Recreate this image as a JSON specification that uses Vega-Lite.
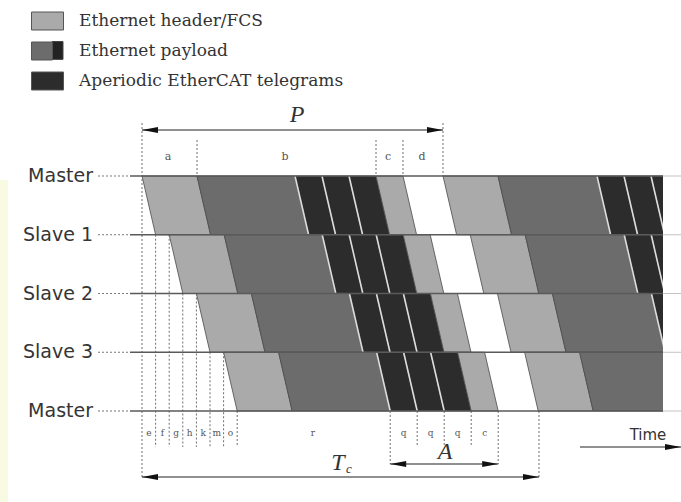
{
  "$schema": "https://vega.github.io/schema/vega-lite/v6.json",
  "width": 663,
  "height": 502,
  "autosize": {"type": "none"},
  "padding": {"left": 0, "top": 0, "right": 18, "bottom": 0},
  "background": "white",
  "config": {"view": {"stroke": null}},
  "datasets": {
    "tint": [{"t": 0, "t2": 8, "lane": 0.07, "lane2": 5.55}],
    "swatchTab": [{"t": 52, "t2": 63, "lane": -2.289, "lane2": -1.985}],
    "shapes": [
      {"id": "r0s1", "kind": "Ethernet header/FCS", "lane": 0, "t": 142, "t2": 197},
      {"id": "r0s1", "kind": "Ethernet header/FCS", "lane": 1, "t": 155.6, "t2": 210.6},
      {"id": "r0s2", "kind": "Ethernet payload", "lane": 0, "t": 197, "t2": 295},
      {"id": "r0s2", "kind": "Ethernet payload", "lane": 1, "t": 210.6, "t2": 308.6},
      {"id": "r0s3", "kind": "Aperiodic EtherCAT telegrams", "lane": 0, "t": 295, "t2": 322},
      {"id": "r0s3", "kind": "Aperiodic EtherCAT telegrams", "lane": 1, "t": 308.6, "t2": 335.6},
      {"id": "r0s4", "kind": "Aperiodic EtherCAT telegrams", "lane": 0, "t": 322, "t2": 349},
      {"id": "r0s4", "kind": "Aperiodic EtherCAT telegrams", "lane": 1, "t": 335.6, "t2": 362.6},
      {"id": "r0s5", "kind": "Aperiodic EtherCAT telegrams", "lane": 0, "t": 349, "t2": 376},
      {"id": "r0s5", "kind": "Aperiodic EtherCAT telegrams", "lane": 1, "t": 362.6, "t2": 389.6},
      {"id": "r0s6", "kind": "Ethernet header/FCS", "lane": 0, "t": 376, "t2": 403},
      {"id": "r0s6", "kind": "Ethernet header/FCS", "lane": 1, "t": 389.6, "t2": 416.6},
      {"id": "r0s8", "kind": "Ethernet header/FCS", "lane": 0, "t": 443, "t2": 498},
      {"id": "r0s8", "kind": "Ethernet header/FCS", "lane": 1, "t": 456.6, "t2": 511.6},
      {"id": "r0s9", "kind": "Ethernet payload", "lane": 0, "t": 498, "t2": 597},
      {"id": "r0s9", "kind": "Ethernet payload", "lane": 1, "t": 511.6, "t2": 610.6},
      {"id": "r0s10", "kind": "Aperiodic EtherCAT telegrams", "lane": 0, "t": 597, "t2": 624},
      {"id": "r0s10", "kind": "Aperiodic EtherCAT telegrams", "lane": 1, "t": 610.6, "t2": 637.6},
      {"id": "r0s11", "kind": "Aperiodic EtherCAT telegrams", "lane": 0, "t": 624, "t2": 651},
      {"id": "r0s11", "kind": "Aperiodic EtherCAT telegrams", "lane": 1, "t": 637.6, "t2": 664.6},
      {"id": "r0s12", "kind": "Aperiodic EtherCAT telegrams", "lane": 0, "t": 651, "t2": 678},
      {"id": "r0s12", "kind": "Aperiodic EtherCAT telegrams", "lane": 1, "t": 664.6, "t2": 691.6},

      {"id": "r1s1", "kind": "Ethernet header/FCS", "lane": 1, "t": 169.2, "t2": 224.2},
      {"id": "r1s1", "kind": "Ethernet header/FCS", "lane": 2, "t": 182.8, "t2": 237.8},
      {"id": "r1s2", "kind": "Ethernet payload", "lane": 1, "t": 224.2, "t2": 322.2},
      {"id": "r1s2", "kind": "Ethernet payload", "lane": 2, "t": 237.8, "t2": 335.8},
      {"id": "r1s3", "kind": "Aperiodic EtherCAT telegrams", "lane": 1, "t": 322.2, "t2": 349.2},
      {"id": "r1s3", "kind": "Aperiodic EtherCAT telegrams", "lane": 2, "t": 335.8, "t2": 362.8},
      {"id": "r1s4", "kind": "Aperiodic EtherCAT telegrams", "lane": 1, "t": 349.2, "t2": 376.2},
      {"id": "r1s4", "kind": "Aperiodic EtherCAT telegrams", "lane": 2, "t": 362.8, "t2": 389.8},
      {"id": "r1s5", "kind": "Aperiodic EtherCAT telegrams", "lane": 1, "t": 376.2, "t2": 403.2},
      {"id": "r1s5", "kind": "Aperiodic EtherCAT telegrams", "lane": 2, "t": 389.8, "t2": 416.8},
      {"id": "r1s6", "kind": "Ethernet header/FCS", "lane": 1, "t": 403.2, "t2": 430.2},
      {"id": "r1s6", "kind": "Ethernet header/FCS", "lane": 2, "t": 416.8, "t2": 443.8},
      {"id": "r1s8", "kind": "Ethernet header/FCS", "lane": 1, "t": 470.2, "t2": 525.2},
      {"id": "r1s8", "kind": "Ethernet header/FCS", "lane": 2, "t": 483.8, "t2": 538.8},
      {"id": "r1s9", "kind": "Ethernet payload", "lane": 1, "t": 525.2, "t2": 624.2},
      {"id": "r1s9", "kind": "Ethernet payload", "lane": 2, "t": 538.8, "t2": 637.8},
      {"id": "r1s10", "kind": "Aperiodic EtherCAT telegrams", "lane": 1, "t": 624.2, "t2": 651.2},
      {"id": "r1s10", "kind": "Aperiodic EtherCAT telegrams", "lane": 2, "t": 637.8, "t2": 664.8},
      {"id": "r1s11", "kind": "Aperiodic EtherCAT telegrams", "lane": 1, "t": 651.2, "t2": 678.2},
      {"id": "r1s11", "kind": "Aperiodic EtherCAT telegrams", "lane": 2, "t": 664.8, "t2": 691.8},

      {"id": "r2s1", "kind": "Ethernet header/FCS", "lane": 2, "t": 196.4, "t2": 251.4},
      {"id": "r2s1", "kind": "Ethernet header/FCS", "lane": 3, "t": 210, "t2": 265},
      {"id": "r2s2", "kind": "Ethernet payload", "lane": 2, "t": 251.4, "t2": 349.4},
      {"id": "r2s2", "kind": "Ethernet payload", "lane": 3, "t": 265, "t2": 363},
      {"id": "r2s3", "kind": "Aperiodic EtherCAT telegrams", "lane": 2, "t": 349.4, "t2": 376.4},
      {"id": "r2s3", "kind": "Aperiodic EtherCAT telegrams", "lane": 3, "t": 363, "t2": 390},
      {"id": "r2s4", "kind": "Aperiodic EtherCAT telegrams", "lane": 2, "t": 376.4, "t2": 403.4},
      {"id": "r2s4", "kind": "Aperiodic EtherCAT telegrams", "lane": 3, "t": 390, "t2": 417},
      {"id": "r2s5", "kind": "Aperiodic EtherCAT telegrams", "lane": 2, "t": 403.4, "t2": 430.4},
      {"id": "r2s5", "kind": "Aperiodic EtherCAT telegrams", "lane": 3, "t": 417, "t2": 444},
      {"id": "r2s6", "kind": "Ethernet header/FCS", "lane": 2, "t": 430.4, "t2": 457.4},
      {"id": "r2s6", "kind": "Ethernet header/FCS", "lane": 3, "t": 444, "t2": 471},
      {"id": "r2s8", "kind": "Ethernet header/FCS", "lane": 2, "t": 497.4, "t2": 552.4},
      {"id": "r2s8", "kind": "Ethernet header/FCS", "lane": 3, "t": 511, "t2": 566},
      {"id": "r2s9", "kind": "Ethernet payload", "lane": 2, "t": 552.4, "t2": 651.4},
      {"id": "r2s9", "kind": "Ethernet payload", "lane": 3, "t": 566, "t2": 665},
      {"id": "r2s10", "kind": "Aperiodic EtherCAT telegrams", "lane": 2, "t": 651.4, "t2": 678.4},
      {"id": "r2s10", "kind": "Aperiodic EtherCAT telegrams", "lane": 3, "t": 665, "t2": 692},

      {"id": "r3s1", "kind": "Ethernet header/FCS", "lane": 3, "t": 223.6, "t2": 278.6},
      {"id": "r3s1", "kind": "Ethernet header/FCS", "lane": 4, "t": 237.2, "t2": 292.2},
      {"id": "r3s2", "kind": "Ethernet payload", "lane": 3, "t": 278.6, "t2": 376.6},
      {"id": "r3s2", "kind": "Ethernet payload", "lane": 4, "t": 292.2, "t2": 390.2},
      {"id": "r3s3", "kind": "Aperiodic EtherCAT telegrams", "lane": 3, "t": 376.6, "t2": 403.6},
      {"id": "r3s3", "kind": "Aperiodic EtherCAT telegrams", "lane": 4, "t": 390.2, "t2": 417.2},
      {"id": "r3s4", "kind": "Aperiodic EtherCAT telegrams", "lane": 3, "t": 403.6, "t2": 430.6},
      {"id": "r3s4", "kind": "Aperiodic EtherCAT telegrams", "lane": 4, "t": 417.2, "t2": 444.2},
      {"id": "r3s5", "kind": "Aperiodic EtherCAT telegrams", "lane": 3, "t": 430.6, "t2": 457.6},
      {"id": "r3s5", "kind": "Aperiodic EtherCAT telegrams", "lane": 4, "t": 444.2, "t2": 471.2},
      {"id": "r3s6", "kind": "Ethernet header/FCS", "lane": 3, "t": 457.6, "t2": 484.6},
      {"id": "r3s6", "kind": "Ethernet header/FCS", "lane": 4, "t": 471.2, "t2": 498.2},
      {"id": "r3s8", "kind": "Ethernet header/FCS", "lane": 3, "t": 524.6, "t2": 579.6},
      {"id": "r3s8", "kind": "Ethernet header/FCS", "lane": 4, "t": 538.2, "t2": 593.2},
      {"id": "r3s9", "kind": "Ethernet payload", "lane": 3, "t": 579.6, "t2": 678.6},
      {"id": "r3s9", "kind": "Ethernet payload", "lane": 4, "t": 593.2, "t2": 692.2}
    ],
    "laneLines": [
      {"lane": 0, "part": "lead", "t": 98, "t2": 130},
      {"lane": 1, "part": "lead", "t": 98, "t2": 130},
      {"lane": 2, "part": "lead", "t": 98, "t2": 130},
      {"lane": 3, "part": "lead", "t": 98, "t2": 130},
      {"lane": 4, "part": "lead", "t": 98, "t2": 130},
      {"lane": 0, "part": "main", "t": 130, "t2": 663},
      {"lane": 1, "part": "main", "t": 130, "t2": 663},
      {"lane": 2, "part": "main", "t": 130, "t2": 663},
      {"lane": 3, "part": "main", "t": 130, "t2": 663},
      {"lane": 4, "part": "main", "t": 130, "t2": 663},
      {"lane": 0, "part": "tail", "t": 663, "t2": 681},
      {"lane": 1, "part": "tail", "t": 663, "t2": 681},
      {"lane": 2, "part": "tail", "t": 663, "t2": 681},
      {"lane": 3, "part": "tail", "t": 663, "t2": 681},
      {"lane": 4, "part": "tail", "t": 663, "t2": 681}
    ],
    "laneNames": [
      {"lane": 0, "name": "Master", "t": 93},
      {"lane": 1, "name": "Slave 1", "t": 93},
      {"lane": 2, "name": "Slave 2", "t": 93},
      {"lane": 3, "name": "Slave 3", "t": 93},
      {"lane": 4, "name": "Master", "t": 93}
    ],
    "vlines": [
      {"t": 142, "lane": -0.902, "lane2": 5.123},
      {"t": 443, "lane": -0.902, "lane2": 0},
      {"t": 197, "lane": -0.613, "lane2": 0},
      {"t": 376, "lane": -0.613, "lane2": 0},
      {"t": 403, "lane": -0.613, "lane2": 0},
      {"t": 155.6, "lane": 1, "lane2": 4.613},
      {"t": 169.2, "lane": 1, "lane2": 4.613},
      {"t": 182.8, "lane": 2, "lane2": 4.613},
      {"t": 196.4, "lane": 2, "lane2": 4.613},
      {"t": 210, "lane": 3, "lane2": 4.613},
      {"t": 223.6, "lane": 3, "lane2": 4.613},
      {"t": 237.2, "lane": 4, "lane2": 4.613},
      {"t": 390.2, "lane": 4, "lane2": 4.902},
      {"t": 417.2, "lane": 4, "lane2": 4.613},
      {"t": 444.2, "lane": 4, "lane2": 4.613},
      {"t": 471.2, "lane": 4, "lane2": 4.613},
      {"t": 498.2, "lane": 4, "lane2": 4.902},
      {"t": 539, "lane": 4, "lane2": 5.123}
    ],
    "arrows": [
      {"name": "P", "t": 142, "t2": 443, "lane": -0.783},
      {"name": "A", "t": 390.2, "t2": 498.2, "lane": 4.902},
      {"name": "Tc", "t": 142, "t2": 539, "lane": 5.123},
      {"name": "Time", "t": 580, "t2": 681, "lane": 4.613}
    ],
    "heads": [
      {"t": 142, "lane": -0.783, "dir": "L"},
      {"t": 443, "lane": -0.783, "dir": "R"},
      {"t": 390.2, "lane": 4.902, "dir": "L"},
      {"t": 498.2, "lane": 4.902, "dir": "R"},
      {"t": 142, "lane": 5.123, "dir": "L"},
      {"t": 539, "lane": 5.123, "dir": "R"},
      {"t": 681, "lane": 4.613, "dir": "R"}
    ],
    "bigLabels": [
      {"label": "P", "t": 297, "lane": -1.04},
      {"label": "A", "t": 445, "lane": 4.70},
      {"label": "T", "t": 338, "lane": 4.885}
    ],
    "subLabels": [
      {"label": "c", "t": 349, "lane": 4.98}
    ],
    "topLabels": [
      {"label": "a", "t": 168, "lane": -0.323},
      {"label": "b", "t": 285, "lane": -0.323},
      {"label": "c", "t": 388, "lane": -0.323},
      {"label": "d", "t": 422, "lane": -0.323}
    ],
    "smallLabels": [
      {"label": "e", "t": 148.8, "lane": 4.374},
      {"label": "f", "t": 162.4, "lane": 4.374},
      {"label": "g", "t": 176, "lane": 4.374},
      {"label": "h", "t": 189.6, "lane": 4.374},
      {"label": "k", "t": 203.2, "lane": 4.374},
      {"label": "m", "t": 216.8, "lane": 4.374},
      {"label": "o", "t": 230.4, "lane": 4.374},
      {"label": "r", "t": 313, "lane": 4.374},
      {"label": "q", "t": 403.7, "lane": 4.374},
      {"label": "q", "t": 430.7, "lane": 4.374},
      {"label": "q", "t": 457.7, "lane": 4.374},
      {"label": "c", "t": 484.7, "lane": 4.374}
    ],
    "timeLabel": [
      {"label": "Time", "t": 648, "lane": 4.41}
    ]
  },
  "encoding": {
    "x": {"field": "t", "type": "quantitative", "scale": {"domain": [0, 663], "nice": false, "zero": false}, "axis": null},
    "y": {"field": "lane", "type": "quantitative", "scale": {"domain": [-2.9957, 5.5489], "nice": false, "zero": false, "reverse": true}, "axis": null}
  },
  "layer": [
    {
      "data": {"name": "tint"},
      "mark": {"type": "rect", "color": "#f8fbe2"},
      "encoding": {"x2": {"field": "t2"}, "y2": {"field": "lane2"}}
    },
    {
      "data": {"name": "swatchTab"},
      "mark": {"type": "rect", "color": "#222222", "stroke": "#444444", "strokeWidth": 1},
      "encoding": {"x2": {"field": "t2"}, "y2": {"field": "lane2"}}
    },
    {
      "data": {"name": "vlines"},
      "mark": {"type": "rule", "stroke": "#6e6e6e", "strokeDash": [2, 2], "strokeWidth": 1},
      "encoding": {"y2": {"field": "lane2"}}
    },
    {
      "data": {"name": "shapes"},
      "mark": {"type": "area", "orient": "horizontal", "clip": true, "stroke": "#4a4a4a", "strokeWidth": 0.8, "opacity": 1},
      "encoding": {
        "x2": {"field": "t2"},
        "detail": {"field": "id"},
        "fill": {
          "field": "kind",
          "type": "nominal",
          "scale": {"domain": ["Ethernet header/FCS", "Ethernet payload", "Aperiodic EtherCAT telegrams"], "range": ["#aaaaaa", "#6c6c6c", "#2c2c2c"]},
          "legend": {
            "orient": "none",
            "legendX": 37,
            "legendY": 10.5,
            "title": null,
            "padding": 0,
            "symbolType": "M-1.6,-0.9H1.6V0.9H-1.6Z",
            "symbolSize": 400,
            "symbolStrokeColor": "#555555",
            "symbolStrokeWidth": 1,
            "symbolOpacity": 1,
            "labelFont": "DejaVu Serif",
            "labelFontSize": 17,
            "labelColor": "#333333",
            "labelOffset": 21,
            "rowPadding": 7,
            "labelLimit": 400,
            "encode": {
              "symbols": {
                "update": {
                  "shape": {"signal": "datum.value === 'Ethernet payload' ? 'M-1.6,-0.9H0.5V0.9H-1.6Z' : 'M-1.6,-0.9H1.6V0.9H-1.6Z'"}
                }
              }
            }
          }
        }
      }
    },
    {
      "data": {"name": "shapes"},
      "transform": [{"filter": "datum.kind === 'Aperiodic EtherCAT telegrams'"}],
      "mark": {"type": "line", "clip": true, "stroke": "#dddddd", "strokeWidth": 1.6},
      "encoding": {"detail": {"field": "id"}}
    },
    {
      "data": {"name": "laneLines"},
      "transform": [{"filter": "datum.part === 'lead'"}],
      "mark": {"type": "rule", "stroke": "#777777", "strokeDash": [2, 2], "strokeWidth": 1},
      "encoding": {"x2": {"field": "t2"}}
    },
    {
      "data": {"name": "laneLines"},
      "transform": [{"filter": "datum.part === 'main'"}],
      "mark": {"type": "rule", "stroke": "#5a5a5a", "strokeWidth": 1.6},
      "encoding": {"x2": {"field": "t2"}}
    },
    {
      "data": {"name": "laneLines"},
      "transform": [{"filter": "datum.part === 'tail'"}],
      "mark": {"type": "rule", "stroke": "#c4c4c4", "strokeWidth": 1},
      "encoding": {"x2": {"field": "t2"}}
    },
    {
      "data": {"name": "laneNames"},
      "mark": {"type": "text", "align": "right", "baseline": "middle", "font": "DejaVu Sans", "fontSize": 19, "fill": "#353535"},
      "encoding": {"text": {"field": "name"}}
    },
    {
      "data": {"name": "arrows"},
      "mark": {"type": "rule", "stroke": "#222222", "strokeWidth": 1.2},
      "encoding": {"x2": {"field": "t2"}}
    },
    {
      "data": {"name": "heads"},
      "mark": {"type": "point", "filled": true, "opacity": 1, "color": "#111111", "size": 256, "strokeWidth": 0},
      "encoding": {
        "shape": {"field": "dir", "type": "nominal", "scale": {"domain": ["L", "R"], "range": ["M0,0L2,-0.375L2,0.375Z", "M0,0L-2,-0.375L-2,0.375Z"]}, "legend": null}
      }
    },
    {
      "data": {"name": "bigLabels"},
      "mark": {"type": "text", "font": "Liberation Serif", "fontStyle": "italic", "fontSize": 24, "fill": "#333333", "baseline": "middle", "align": "center"},
      "encoding": {"text": {"field": "label"}}
    },
    {
      "data": {"name": "subLabels"},
      "mark": {"type": "text", "font": "Liberation Serif", "fontStyle": "italic", "fontSize": 13, "fill": "#333333", "baseline": "middle", "align": "center"},
      "encoding": {"text": {"field": "label"}}
    },
    {
      "data": {"name": "topLabels"},
      "mark": {"type": "text", "font": "DejaVu Serif", "fontSize": 11, "fill": "#555555", "baseline": "middle", "align": "center"},
      "encoding": {"text": {"field": "label"}}
    },
    {
      "data": {"name": "smallLabels"},
      "mark": {"type": "text", "font": "DejaVu Serif", "fontSize": 9, "fill": "#555555", "baseline": "middle", "align": "center"},
      "encoding": {"text": {"field": "label"}}
    },
    {
      "data": {"name": "timeLabel"},
      "mark": {"type": "text", "font": "DejaVu Sans", "fontSize": 15, "fill": "#333333", "baseline": "middle", "align": "center"},
      "encoding": {"text": {"field": "label"}}
    }
  ]
}
